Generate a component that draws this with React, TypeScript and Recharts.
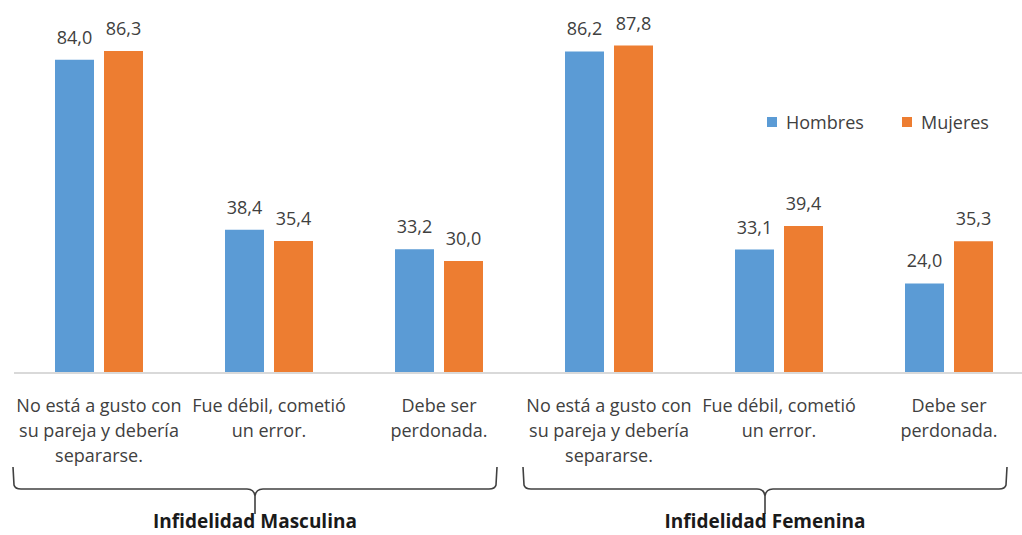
import React from "react";
import { BarChart, Bar, XAxis, YAxis, LabelList } from "recharts";

const CATEGORIES = ["m1", "m2", "m3", "f1", "f2", "f3"];
const TICK_LINES = [
  ["No está a gusto con", "su pareja y debería", "separarse."],
  ["Fue débil, cometió", "un error."],
  ["Debe ser", "perdonada."],
  ["No está a gusto con", "su pareja y debería", "separarse."],
  ["Fue débil, cometió", "un error."],
  ["Debe ser", "perdonada."],
];
const HOMBRES = [84.0, 38.4, 33.2, 86.2, 33.1, 24.0];
const MUJERES = [86.3, 35.4, 30.0, 87.8, 39.4, 35.3];
const GROUPS = ["Infidelidad Masculina", "Infidelidad Femenina"];
const SERIES = [
  { key: "hombres", label: "Hombres", color: "#5b9bd5" },
  { key: "mujeres", label: "Mujeres", color: "#ed7d31" },
];

const TEXT = "#404040";
const FONT = "'Open Sans', sans-serif";
const BAND = 170;

const data = CATEGORIES.map((c, i) => ({
  name: c,
  hombres: HOMBRES[i],
  mujeres: MUJERES[i],
}));

const fmt = (v: any) => Number(v).toFixed(1).replace(".", ",");

function Brace({ left, right, y }: { left: number; right: number; y: number }) {
  const mid = (left + right) / 2;
  const top = y;
  const bot = y + 22;
  const tip = y + 47;
  const d = `M${left},${top} L${left + 1},${bot - 4} Q${left + 2},${bot} ${left + 8},${bot}
    L${mid - 8},${bot} Q${mid - 1},${bot} ${mid},${bot + 7} L${mid},${tip}
    M${mid},${bot + 7} Q${mid + 1},${bot} ${mid + 8},${bot}
    L${right - 8},${bot} Q${right - 2},${bot} ${right - 1},${bot - 4} L${right},${top}`;
  return <path d={d} fill="none" stroke={TEXT} strokeWidth={1.6} />;
}

function Tick(props: any) {
  const { x, y, index } = props;
  const lines = TICK_LINES[index] || [];
  return (
    <g>
      {lines.map((l, i) => (
        <text
          key={i}
          x={x}
          y={y + 39 + i * 25}
          textAnchor="middle"
          fill={TEXT}
          fontSize={18}
          fontFamily={FONT}
        >
          {l}
        </text>
      ))}
      {index % 3 === 0 && (
        <g>
          <Brace left={x - 86} right={x + 2 * BAND + 58} y={y + 94} />
          <text
            x={x + BAND - 14}
            y={y + 155}
            textAnchor="middle"
            fill="#1a1a1a"
            fontSize={19}
            fontWeight="bold"
            fontFamily={FONT}
          >
            {GROUPS[index / 3]}
          </text>
        </g>
      )}
    </g>
  );
}

function ChartLegend() {
  return (
    <div
      style={{
        position: "absolute",
        top: 110,
        left: 767,
        display: "flex",
        fontFamily: FONT,
        fontSize: 18,
        color: TEXT,
      }}
    >
      {SERIES.map((s) => (
        <div key={s.key} style={{ display: "flex", alignItems: "center", width: 135 }}>
          <span
            style={{ display: "inline-block", width: 10, height: 10, background: s.color, marginRight: 9 }}
          />
          <span>{s.label}</span>
        </div>
      ))}
    </div>
  );
}

export default function App() {
  return (
    <div style={{ position: "absolute", left: 0, top: 0, width: 1022, height: 535, background: "#fff" }}>
      <BarChart
        width={1022}
        height={535}
        data={data}
        margin={{ top: 0, right: -12, left: 14, bottom: 2 }}
        barGap={10}
        barSize={39}
      >
        <XAxis
          dataKey="name"
          height={160}
          tickLine={false}
          tickSize={0}
          tickMargin={0}
          interval={0}
          axisLine={{ stroke: "#d9d9d9", strokeWidth: 2 }}
          tick={<Tick />}
        />
        <YAxis hide domain={[0, 100]} />
        {SERIES.map((s) => (
          <Bar key={s.key} dataKey={s.key} fill={s.color} isAnimationActive={false}>
            <LabelList
              dataKey={s.key}
              position="top"
              offset={16}
              formatter={fmt}
              fill={TEXT}
              fontSize={18}
              fontFamily={FONT}
            />
          </Bar>
        ))}
      </BarChart>
      <ChartLegend />
    </div>
  );
}
